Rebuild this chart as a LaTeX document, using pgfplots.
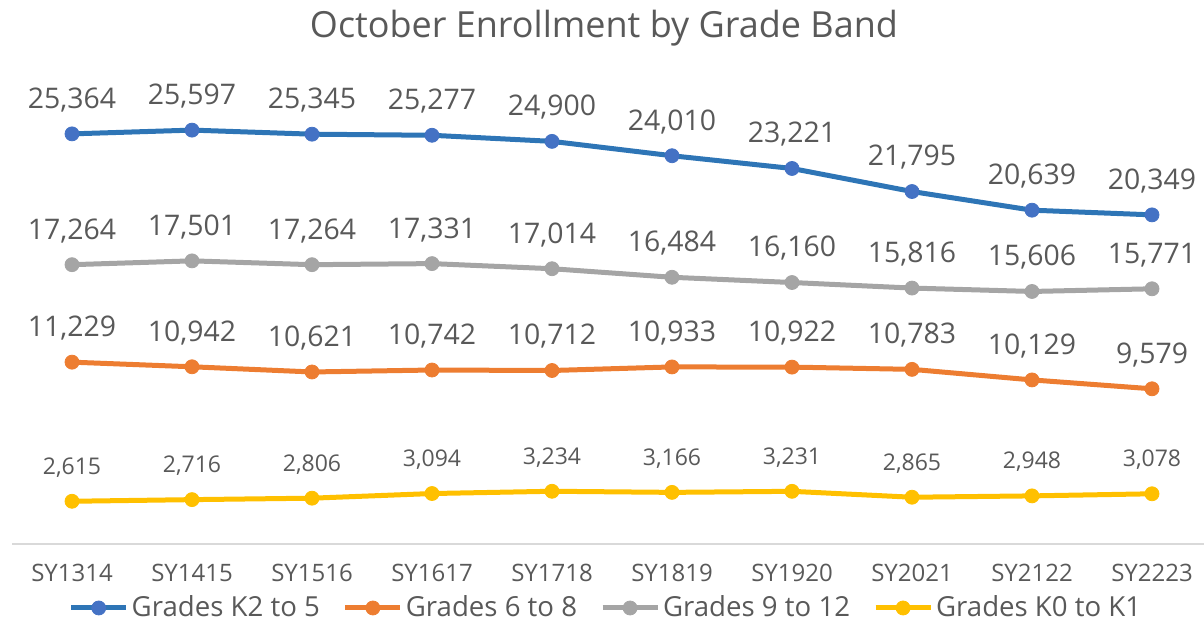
\documentclass[border=0pt]{standalone}
\usepackage{fontspec}
\setmainfont{Open Sans}
\usepackage{pgfplots}
\pgfplotsset{compat=1.18}
\definecolor{txt}{HTML}{595959}
\definecolor{axg}{HTML}{D9D9D9}
\definecolor{blueL}{HTML}{2E75B6}
\definecolor{blueM}{HTML}{4472C4}
\definecolor{orng}{HTML}{ED7D31}
\definecolor{gry}{HTML}{A5A5A5}
\definecolor{yel}{HTML}{FFC000}
\begin{document}
\begin{tikzpicture}
\begin{axis}[
  scale only axis, width=596bp, height=242.25bp,
  xmin=-0.5, xmax=9.4333, ymin=0, ymax=30000,
  clip=false,
  axis y line=none, axis x line*=bottom,
  x axis line style={draw=axg, line width=1bp, -},
  major tick length=0pt,
  xtick={0,...,9},
  xticklabels={SY1314,SY1415,SY1516,SY1617,SY1718,SY1819,SY1920,SY2021,SY2122,SY2223},
  xticklabel style={anchor=center, yshift=-14.75bp, font=\fontsize{12bp}{14bp}\selectfont, text=txt},
  /pgf/number format/assume math mode=true,
  /pgf/number format/1000 sep={,},
  nodes near coords,
  nodes near coords style={anchor=center, yshift=17bp, font=\fontsize{14.2bp}{16bp}\selectfont, text=txt},
  every axis plot/.append style={line width=2.5bp, mark=*, mark size=3.5bp},
  legend columns=4,
  legend style={at={(0.4987,-0.1331)}, anchor=center, draw=none, fill=none,
    font=\fontsize{13.8bp}{16bp}\selectfont, text=txt,
    /tikz/every even column/.append style={column sep=10bp},
    nodes={inner sep=1.5bp}},
  legend image code/.code={\draw[mark repeat=2,mark phase=2,#1] plot coordinates {(0bp,0bp) (13.75bp,0bp) (27.5bp,0bp)};},
]
\addplot[blueL, mark options={fill=blueM, draw=blueM, line width=0.4bp}] coordinates {
 (0,25364) (1,25597) (2,25345) (3,25277) (4,24900) (5,24010) (6,23221) (7,21795) (8,20639) (9,20349)};
\addlegendentry{Grades K2 to 5}
\addplot[orng, mark options={fill=orng, draw=orng, line width=0.4bp}] coordinates {
 (0,11229) (1,10942) (2,10621) (3,10742) (4,10712) (5,10933) (6,10922) (7,10783) (8,10129) (9,9579)};
\addlegendentry{Grades 6 to 8}
\addplot[gry, mark options={fill=gry, draw=gry, line width=0.4bp}] coordinates {
 (0,17264) (1,17501) (2,17264) (3,17331) (4,17014) (5,16484) (6,16160) (7,15816) (8,15606) (9,15771)};
\addlegendentry{Grades 9 to 12}
\addplot[yel, mark options={fill=yel, draw=yel, line width=0.4bp}, every node near coord/.append style={font=\fontsize{11.5bp}{13bp}\selectfont}] coordinates {
 (0,2615) (1,2716) (2,2806) (3,3094) (4,3234) (5,3166) (6,3231) (7,2865) (8,2948) (9,3078)};
\addlegendentry{Grades K0 to K1}
\node[font=\fontsize{18bp}{21bp}\selectfont, text=txt] at (rel axis cs:0.4966,1.063) {October Enrollment by Grade Band};
\coordinate (bbll) at (rel axis cs:-0.010067,-0.15996);
\coordinate (bbur) at (rel axis cs:1,1.12178);
\end{axis}
\pgfresetboundingbox
\path[use as bounding box] (bbll) rectangle (bbur);
\end{tikzpicture}
\end{document}
